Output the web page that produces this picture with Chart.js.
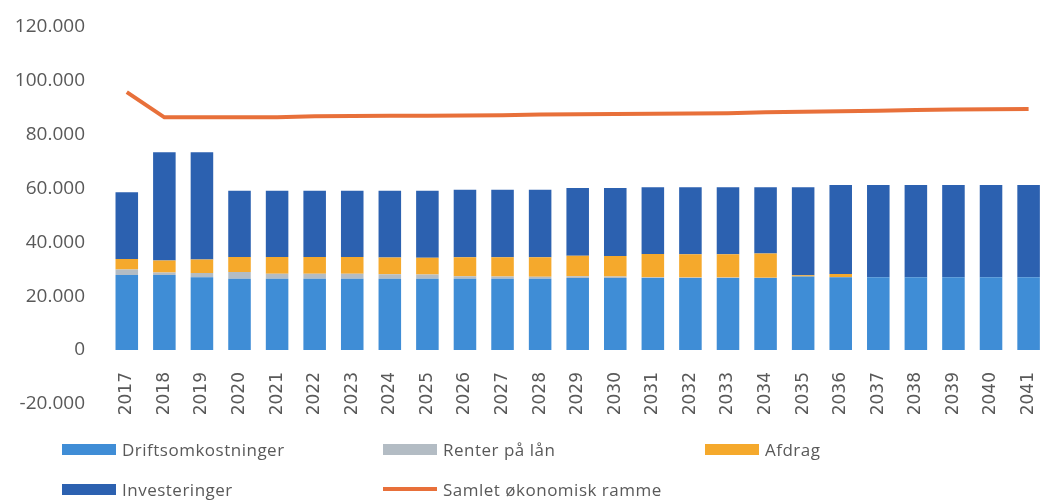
<!DOCTYPE html>
<html>
<head>
<meta charset="utf-8">
<script src="https://cdn.jsdelivr.net/npm/chart.js@4/dist/chart.umd.min.js"></script>
<style>
  html, body { margin: 0; padding: 0; background: #fff; overflow: hidden; }
  #wrap { position: relative; width: 1042px; height: 500px; overflow: hidden; }
  #legend { position: absolute; left: 0; top: 0; width: 1042px; height: 500px; pointer-events: none;
    font-family: "Open Sans", sans-serif; font-size: 17px; color: #595959; letter-spacing: 0.5px; }
  .item { position: absolute; display: flex; align-items: center; height: 24px; }
  .swatch { width: 54px; height: 11px; margin-right: 6px; }
  .swatch.line { height: 4px; }
</style>
</head>
<body>
<div id="wrap">
  <canvas id="chart" width="1063" height="500"></canvas>
  <div id="legend"></div>
</div>
<script>
const years = ["2017", "2018", "2019", "2020", "2021", "2022", "2023", "2024", "2025", "2026", "2027", "2028", "2029",
  "2030", "2031", "2032", "2033", "2034", "2035", "2036", "2037", "2038", "2039", "2040", "2041"];

const drift = [27800, 27800, 27000, 26400, 26400, 26400, 26400, 26400, 26400, 26400, 26400, 26400, 26700,
  26700, 26700, 26700, 26700, 26700, 27300, 27000, 27000, 27000, 27000, 27000, 27000];
const renter = [2100, 1000, 1600, 2500, 1900, 1900, 1900, 1700, 1600, 1000, 900, 800, 700,
  600, 300, 200, 200, 100, 0, 0, 0, 0, 0, 0, 0];
const afdrag = [3900, 4400, 5000, 5600, 6200, 6200, 6200, 6200, 6200, 7000, 7100, 7200, 7600,
  7600, 8600, 8600, 8600, 9000, 400, 1200, 0, 0, 0, 0, 0];
const investeringer = [24700, 40100, 39700, 24600, 24600, 24600, 24600, 24800, 24900, 25000, 25000, 25000, 25100,
  25200, 24800, 24900, 24900, 24600, 32700, 33000, 34200, 34200, 34200, 34200, 34200];
const ramme = [95600, 86300, 86300, 86300, 86300, 86700, 86800, 86900, 86900, 87000, 87100, 87300, 87400,
  87500, 87600, 87700, 87800, 88200, 88400, 88500, 88700, 89000, 89200, 89300, 89400];

const yMin = -20000, yMax = 120000, yStep = 20000;

function fmt(v) {
  const s = Math.abs(v).toString().replace(/\B(?=(\d{3})+(?!\d))/g, ".");
  return (v < 0 ? "-" : "") + s;
}

const ctx = document.getElementById("chart").getContext("2d");
const barOpts = { stack: "bars", barPercentage: 0.6, categoryPercentage: 1, borderWidth: 0 };

const chart = new Chart(ctx, {
  type: "bar",
  data: {
    labels: years,
    datasets: [
      { label: "Samlet økonomisk ramme", type: "line", data: ramme, borderColor: "#e8703a",
        backgroundColor: "#e8703a", borderWidth: 4, pointRadius: 0, tension: 0, stack: "line", order: 0 },
      { label: "Driftsomkostninger", data: drift, backgroundColor: "#3f8dd6", ...barOpts, order: 1 },
      { label: "Renter på lån", data: renter, backgroundColor: "#b3bcc4", ...barOpts, order: 1 },
      { label: "Afdrag", data: afdrag, backgroundColor: "#f5a92c", ...barOpts, order: 1 },
      { label: "Investeringer", data: investeringer, backgroundColor: "#2c61b0", ...barOpts, order: 1 },
    ],
  },
  options: {
    responsive: false,
    animation: false,
    layout: { padding: { top: 7, right: 0, left: 0, bottom: 96 } },
    scales: {
      x: {
        stacked: true,
        position: { y: 0 },
        grid: { display: false },
        border: { display: false },
        ticks: {
          minRotation: 90, maxRotation: 90, padding: 14, autoSkip: false,
          color: "#595959", font: { family: "DejaVu Sans", size: 17 },
        },
        afterFit: (s) => { s.height = 20; },
      },
      y: {
        stacked: true,
        min: yMin, max: yMax,
        grid: { display: false },
        border: { display: false },
        ticks: {
          stepSize: yStep, padding: 15, color: "#595959",
          font: { family: "Open Sans", size: 19 },
          callback: (v) => fmt(v),
        },
        afterFit: (s) => { s.width = 108; },
      },
    },
    plugins: {
      legend: { display: false },
      tooltip: { enabled: false },
    },
  },
});

// legend laid out in columns like the original
const legendItems = [
  { label: "Driftsomkostninger", color: "#3f8dd6", x: 62, y: 437 },
  { label: "Renter på lån", color: "#b3bcc4", x: 383, y: 437 },
  { label: "Afdrag", color: "#f5a92c", x: 705, y: 437 },
  { label: "Investeringer", color: "#2c61b0", x: 62, y: 477 },
  { label: "Samlet økonomisk ramme", color: "#e8703a", x: 383, y: 477, line: true },
];
const legendEl = document.getElementById("legend");
legendItems.forEach((it) => {
  const d = document.createElement("div");
  d.className = "item";
  d.style.left = it.x + "px";
  d.style.top = it.y + "px";
  const sw = document.createElement("span");
  sw.className = "swatch" + (it.line ? " line" : "");
  sw.style.background = it.color;
  const t = document.createElement("span");
  t.textContent = it.label;
  d.appendChild(sw);
  d.appendChild(t);
  legendEl.appendChild(d);
});
</script>
</body>
</html>
